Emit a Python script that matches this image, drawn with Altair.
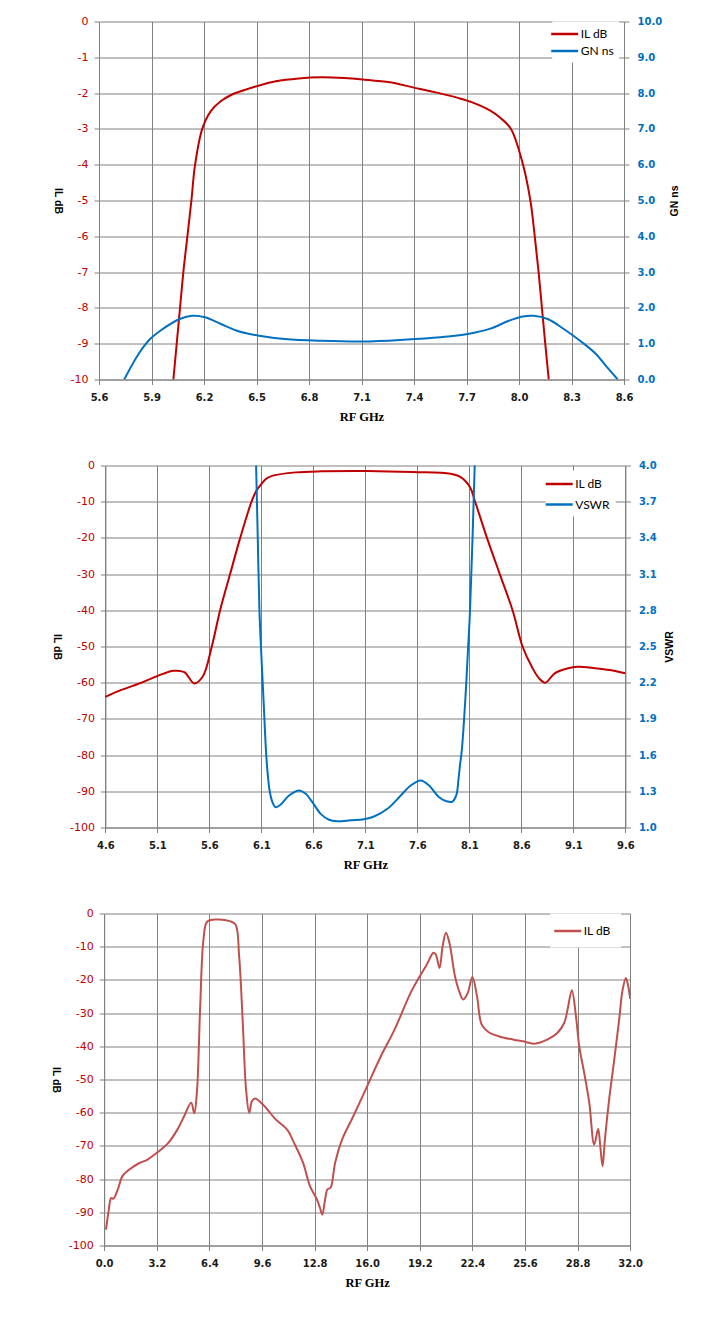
import altair as alt
import pandas as pd

# ---------------- Chart 1 : IL dB and GN ns ----------------
c1_il_freq = [6.025, 6.044, 6.063, 6.082, 6.105, 6.128, 6.149, 6.190, 6.238, 6.295,
              6.352, 6.428, 6.506, 6.610, 6.741, 6.872, 7.002, 7.107, 7.263, 7.394,
              7.524, 7.655, 7.733, 7.836, 7.893, 7.954, 8.023, 8.065, 8.090, 8.112,
              8.131, 8.150, 8.170]
c1_il_db = [-10.0, -9.0, -8.0, -7.0, -6.0, -5.0, -4.0, -3.0, -2.51, -2.23,
            -2.06, -1.92, -1.80, -1.67, -1.59, -1.56, -1.58, -1.62, -1.70, -1.84,
            -1.98, -2.14, -2.26, -2.49, -2.69, -3.0, -4.0, -5.0, -6.0, -7.0,
            -8.0, -9.0, -10.0]
c1_gn_freq = [5.744, 5.827, 5.892, 5.952, 6.062, 6.133, 6.206, 6.297, 6.402, 6.506,
              6.663, 6.872, 7.107, 7.342, 7.550, 7.707, 7.836, 7.942, 8.021, 8.084,
              8.164, 8.256, 8.360, 8.438, 8.504, 8.564]
c1_gn_ns = [0.00, 0.72, 1.13, 1.37, 1.69, 1.78, 1.74, 1.55, 1.34, 1.23,
            1.13, 1.08, 1.06, 1.11, 1.18, 1.27, 1.42, 1.64, 1.76, 1.78,
            1.69, 1.41, 1.04, 0.72, 0.34, 0.00]
c1_x_ticks = [5.6, 5.9, 6.2, 6.5, 6.8, 7.1, 7.4, 7.7, 8.0, 8.3, 8.6]
c1_left_ticks = [0, -1, -2, -3, -4, -5, -6, -7, -8, -9, -10]
c1_right_ticks = [0, 1, 2, 3, 4, 5, 6, 7, 8, 9, 10]

# ---------------- Chart 2 : IL dB and VSWR ----------------
c2_il_freq = [4.600, 4.754, 4.929, 5.104, 5.258, 5.359, 5.455, 5.536, 5.623, 5.703,
              5.799, 5.896, 6.005, 6.049, 6.100, 6.145, 6.210, 6.430, 6.680, 7.120,
              7.560, 7.920, 8.016, 8.106, 8.155, 8.269, 8.392, 8.515, 8.611, 8.700,
              8.770, 8.830, 8.920, 9.050, 9.140, 9.310, 9.450, 9.600]
c2_il_db = [-63.9, -62.0, -60.2, -58.1, -56.7, -57.1, -60.2, -58.3, -50.0, -40.0,
            -30.0, -20.0, -10.0, -7.1, -5.1, -3.7, -2.8, -1.9, -1.6, -1.5,
            -1.8, -2.3, -3.2, -6.0, -10.0, -20.0, -30.0, -40.0, -50.0, -55.6,
            -58.8, -60.0, -57.4, -56.0, -55.6, -56.0, -56.5, -57.4]
c2_vswr_freq = [6.040, 6.049, 6.065, 6.081, 6.100, 6.122, 6.145, 6.160, 6.180, 6.206,
                6.238, 6.286, 6.366, 6.462, 6.526, 6.590, 6.670, 6.750, 6.828, 6.959,
                7.087, 7.183, 7.312, 7.440, 7.536, 7.632, 7.712, 7.808, 7.889, 7.937,
                7.975, 7.995, 8.010, 8.028, 8.060, 8.085, 8.106, 8.151, 8.162]
c2_vswr = [4.40, 4.00, 3.40, 2.80, 2.42, 2.03, 1.62, 1.45, 1.30, 1.21,
           1.168, 1.19, 1.265, 1.307, 1.279, 1.21, 1.113, 1.064, 1.052, 1.06,
           1.069, 1.091, 1.155, 1.265, 1.348, 1.39, 1.348, 1.251, 1.215, 1.215,
           1.27, 1.40, 1.52, 1.65, 2.05, 2.45, 2.80, 4.00, 4.40]
c2_x_ticks = [4.6, 5.1, 5.6, 6.1, 6.6, 7.1, 7.6, 8.1, 8.6, 9.1, 9.6]
c2_left_ticks = [0, -10, -20, -30, -40, -50, -60, -70, -80, -90, -100]
c2_right_ticks = [4, 3.7, 3.4, 3.1, 2.8, 2.5, 2.2, 1.9, 1.6, 1.3, 1]

# ---------------- Chart 3 : wideband IL dB ----------------
c3_freq = [0.11, 0.28, 0.42, 0.56, 0.83, 1.11, 1.53, 2.09, 2.64, 3.20,
           3.90, 4.45, 4.87, 5.29, 5.48, 5.65, 5.84, 6.04, 6.26, 6.82,
           7.65, 7.99, 8.21, 8.43, 8.63, 8.82, 8.99, 9.18, 9.74, 10.43,
           11.13, 11.55, 12.10, 12.52, 12.94, 13.13, 13.27, 13.44, 13.58, 13.77,
           14.05, 14.47, 15.16, 16.00, 16.83, 17.67, 18.64, 19.20, 19.62, 20.03,
           20.17, 20.40, 20.59, 20.79, 21.00, 21.34, 21.56, 21.84, 22.12, 22.40,
           22.68, 22.96, 23.37, 24.07, 24.91, 25.46, 26.16, 26.98, 27.58, 27.99,
           28.19, 28.45, 28.70, 28.90, 29.20, 29.51, 29.81, 30.05, 30.18, 30.32,
           30.46, 30.72, 31.03, 31.33, 31.54, 31.74, 31.88, 32.00]
c3_il_db = [-95.2, -89.2, -85.7, -85.9, -83.1, -79.1, -77.1, -75.3, -74.1, -72.1,
            -69.1, -65.1, -61.0, -57.0, -60.2, -53.0, -27.9, -7.8, -2.5, -1.8,
            -2.3, -3.3, -12.9, -32.9, -53.0, -60.0, -56.5, -55.7, -58.0, -62.0,
            -65.1, -69.1, -75.1, -82.1, -86.1, -88.7, -90.7, -86.1, -83.1, -82.6,
            -75.1, -68.1, -61.0, -52.0, -43.0, -34.9, -23.9, -18.9, -15.4, -11.8,
            -12.3, -16.4, -9.8, -5.8, -8.8, -18.9, -22.9, -25.9, -23.9, -19.1,
            -24.9, -33.4, -35.7, -37.1, -38.0, -38.5, -39.2, -37.9, -35.9, -32.9,
            -28.9, -23.1, -30.9, -40.0, -48.0, -57.0, -69.6, -64.9, -70.1, -76.1,
            -68.1, -56.0, -44.0, -31.9, -22.9, -19.4, -21.9, -25.7]
c3_x_ticks = [0.0, 3.2, 6.4, 9.6, 12.8, 16.0, 19.2, 22.4, 25.6, 28.8, 32.0]
c3_left_ticks = [0, -10, -20, -30, -40, -50, -60, -70, -80, -90, -100]

IL_RED = "#C00000"
BLUE = "#0070C0"
C3_RED = "#C0504D"
GRID = "#808080"
INTERP = "catmull-rom"


def x_axis(values):
    return alt.Axis(values=values, format=".1f", title="RF GHz",
                    titleFont="Liberation Serif", titleFontSize=12.5, titleFontWeight="bold",
                    titleColor="black", titlePadding=8,
                    labelFont="DejaVu Sans", labelFontSize=10, labelFontWeight="bold",
                    labelColor="#1a1a1a", labelPadding=8, labelFlush=False,
                    labelOverlap=False, tickSize=5, grid=True)


def left_axis(values, offset=0):
    return alt.Axis(values=values, title="IL dB", titleAngle=90, titleBaseline="top",
                    titleFont="Liberation Sans", titleFontSize=10.5, titleFontWeight="bold",
                    titleColor="black", titlePadding=8, offset=offset,
                    labelFont="DejaVu Sans", labelFontSize=11, labelColor=IL_RED,
                    labelPadding=6, labelExpr="toString(datum.value)",
                    labelOverlap=False, tickSize=5, grid=True)


def right_axis(values, title, fmt):
    kw = dict(orient="right", values=values, title=title, titleAngle=270, titleBaseline="top",
              titleFont="Liberation Sans", titleFontSize=10.5, titleFontWeight="bold",
              titleColor="black", titlePadding=8,
              labelFont="DejaVu Sans", labelFontSize=10, labelFontWeight="bold",
              labelColor=BLUE, labelPadding=8, labelOverlap=False, tickSize=5, grid=False)
    if fmt:
        kw["format"] = fmt
    return alt.Axis(**kw)


def legend(x, y, pad, rowpad):
    return alt.Legend(title=None, orient="none", legendX=x, legendY=y,
                      symbolType="M-2.25,0H2.25", symbolSize=144, symbolStrokeWidth=2.5,
                      labelFont="Lato", labelFontSize=12, labelColor="black",
                      fillColor="white", padding=pad, rowPadding=rowpad, labelOffset=8.5)


def line(df):
    return alt.Chart(df).mark_line(strokeWidth=2, clip=True, interpolate=INTERP)


# Chart 1
d1a = pd.DataFrame({"f": c1_il_freq, "v": c1_il_db, "s": "IL dB"})
d1b = pd.DataFrame({"f": c1_gn_freq, "v": c1_gn_ns, "s": "GN ns"})
col1 = alt.Scale(domain=["IL dB", "GN ns"], range=[IL_RED, BLUE])
leg1 = legend(453.2, 0, 5, 3)
x1 = alt.X("f:Q", scale=alt.Scale(domain=[5.6, 8.6], nice=False, zero=False), axis=x_axis(c1_x_ticks))
l1a = line(d1a).encode(
    x=x1,
    y=alt.Y("v:Q", scale=alt.Scale(domain=[-10, 0], nice=False), axis=left_axis(c1_left_ticks)),
    color=alt.Color("s:N", scale=col1, legend=leg1),
)
l1b = line(d1b).encode(
    x=x1,
    y=alt.Y("v:Q", scale=alt.Scale(domain=[0, 10], nice=False), axis=right_axis(c1_right_ticks, "GN ns", ".1f")),
    color=alt.Color("s:N", scale=col1, legend=leg1),
)
chart1 = alt.layer(l1a, l1b).resolve_scale(y="independent").properties(width=525, height=358)

# Chart 2 (plot area starts 6.4 px to the right of chart 1's)
d2a = pd.DataFrame({"f": c2_il_freq, "v": c2_il_db, "s": "IL dB"})
d2b = pd.DataFrame({"f": c2_vswr_freq, "v": c2_vswr, "s": "VSWR"})
col2 = alt.Scale(domain=["IL dB", "VSWR"], range=[IL_RED, BLUE])
leg2 = legend(446.7, 5, 6, 6.5)
x2 = alt.X("f:Q", scale=alt.Scale(domain=[4.6, 9.6], nice=False, zero=False, range=[6.4, 526.4]),
           axis=x_axis(c2_x_ticks))
l2a = line(d2a).encode(
    x=x2,
    y=alt.Y("v:Q", scale=alt.Scale(domain=[-100, 0], nice=False), axis=left_axis(c2_left_ticks, -6.4)),
    color=alt.Color("s:N", scale=col2, legend=leg2),
)
l2b = line(d2b).encode(
    x=x2,
    y=alt.Y("v:Q", scale=alt.Scale(domain=[1, 4], nice=False, zero=False), axis=right_axis(c2_right_ticks, "VSWR", None)),
    color=alt.Color("s:N", scale=col2, legend=leg2),
)
chart2 = alt.layer(l2a, l2b).resolve_scale(y="independent").properties(width=526.4, height=362)

# Chart 3 (plot area starts 5.2 px to the right of chart 1's)
d3 = pd.DataFrame({"f": c3_freq, "v": c3_il_db, "s": "IL dB "})
col3 = alt.Scale(domain=["IL dB "], range=[C3_RED])
leg3 = legend(451.2, 0, 10, 2)
chart3 = line(d3).encode(
    x=alt.X("f:Q", scale=alt.Scale(domain=[0, 32], nice=False, zero=False, range=[5.2, 531.2]),
            axis=x_axis(c3_x_ticks)),
    y=alt.Y("v:Q", scale=alt.Scale(domain=[-100, 0], nice=False), axis=left_axis(c3_left_ticks, -5.2)),
    color=alt.Color("s:N", scale=col3, legend=leg3),
).properties(width=531.2, height=332)

chart = alt.concat(chart1, chart2, chart3, columns=1, spacing=36).resolve_scale(
    color="independent"
).properties(
    padding={"left": 41, "top": 7.5, "right": 5, "bottom": 5}
).configure_view(
    strokeWidth=0
).configure_axis(
    gridColor=GRID, gridOpacity=1, gridWidth=1, domainColor=GRID, tickColor=GRID
)

chart.save("out.html", embed_options={"renderer": "svg", "actions": False})
